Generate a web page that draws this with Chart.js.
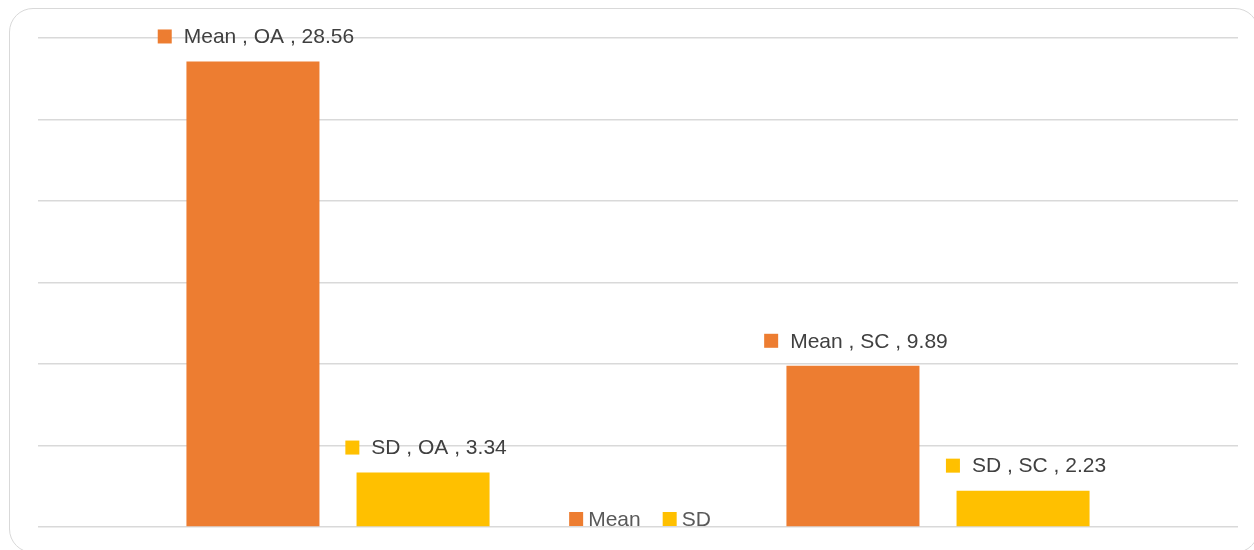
<!DOCTYPE html>
<html>
<head>
<meta charset="utf-8">
<script src="https://cdn.jsdelivr.net/npm/chart.js@4/dist/chart.umd.min.js"></script>
<style>
	html, body { margin: 0; padding: 0; background: #fff; }
	#wrap { position: relative; width: 1254px; height: 550px; }
	#frame {
		position: absolute; left: 9px; top: 8px; width: 1250px; height: 545px;
		border: 1.5px solid #d9d9d9; border-radius: 24px; box-sizing: border-box;
	}
	canvas { position: absolute; left: 0; top: 0; }
</style>
</head>
<body>
<div id="wrap">
	<div id="frame"></div>
	<canvas id="chart" width="1254" height="550"></canvas>
</div>
<script>
const categories = ["OA", "SC"];
const seriesNames = ["Mean", "SD"];
const meanValues = [28.56, 9.89];
const sdValues = [3.34, 2.23];
const seriesColors = ["#ED7D31", "#FFC000"];
const yMax = 30;
const yStep = 5;

const FONT = "21px 'Liberation Sans', Arial, sans-serif";

// labels like "Mean , OA , 28.56" with a small colour square in front
const barLabels = {
	id: "barLabels",
	afterDatasetsDraw: chart => {
		const ctx = chart.ctx;
		ctx.save();
		ctx.font = FONT;
		ctx.textBaseline = "middle";
		chart.data.datasets.forEach((ds, i) => {
			const meta = chart.getDatasetMeta(i);
			meta.data.forEach((bar, j) => {
				const text = `${ds.label} , ${chart.data.labels[j]} , ${ds.data[j].toFixed(2)}`;
				const w = 14 + 12 + ctx.measureText(text).width;
				const left = bar.x + 3 - w / 2;
				const y = bar.y - 25;
				ctx.fillStyle = ds.backgroundColor;
				ctx.fillRect(left, y - 7, 14, 14);
				ctx.fillStyle = "#404040";
				ctx.fillText(text, left + 26, y + 1);
			});
		});
		ctx.restore();
	},
};

// legend sits inside the plot, just above the axis line
const innerLegend = {
	id: "innerLegend",
	afterDraw: chart => {
		const ctx = chart.ctx;
		const area = chart.chartArea;
		ctx.save();
		ctx.font = FONT;
		ctx.textBaseline = "middle";
		const items = chart.data.datasets.map(ds => ({
			label: ds.label,
			color: ds.backgroundColor,
			w: 14 + 5 + ctx.measureText(ds.label).width,
		}));
		const gap = 22;
		const total = items.reduce((s, it) => s + it.w, 0) + gap * (items.length - 1);
		let x = (area.left + area.right) / 2 - total / 2 + 2;
		const y = area.bottom - 8;
		items.forEach(it => {
			ctx.fillStyle = it.color;
			ctx.fillRect(x, y - 7, 14, 14);
			ctx.fillStyle = "#595959";
			ctx.fillText(it.label, x + 19, y + 1);
			x += it.w + gap;
		});
		ctx.restore();
	},
};

const ctx = document.querySelector("#chart").getContext("2d");
const myChart = new Chart(ctx, {
	type: "bar",
	data: {
		labels: categories,
		datasets: [
			{
				label: seriesNames[0],
				data: meanValues,
				backgroundColor: seriesColors[0],
			},
			{
				label: seriesNames[1],
				data: sdValues,
				backgroundColor: seriesColors[1],
			},
		],
	},
	options: {
		responsive: false,
		animation: false,
		layout: { padding: { left: 38, right: 16, top: 38, bottom: 23 } },
		datasets: {
			bar: { categoryPercentage: 0.567, barPercentage: 0.782 },
		},
		scales: {
			x: {
				display: true,
				grid: { display: false, drawTicks: false },
				border: { display: false },
				ticks: { display: false },
			},
			y: {
				min: 0,
				max: yMax,
				ticks: { display: false, stepSize: yStep },
				grid: { color: "#d9d9d9", lineWidth: 1.5, drawTicks: false },
				border: { display: false },
			},
		},
		plugins: {
			legend: { display: false },
			tooltip: { enabled: false },
		},
	},
	plugins: [barLabels, innerLegend],
});
</script>
</body>
</html>
